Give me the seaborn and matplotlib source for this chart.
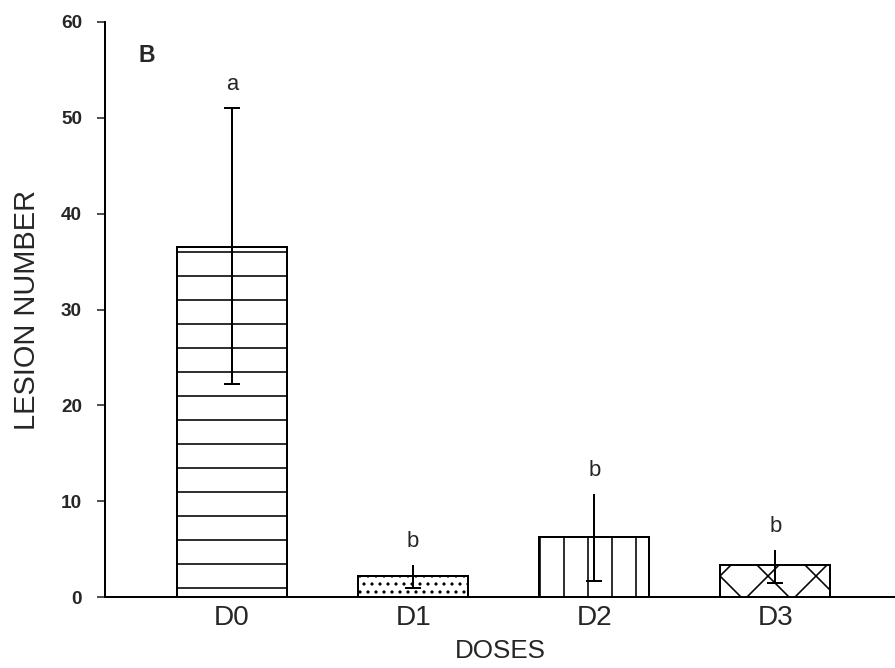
import numpy as np
import matplotlib
matplotlib.use('Agg')
import matplotlib.pyplot as plt
import seaborn as sns

# dados
doses = ['D0', 'D1', 'D2', 'D3']
means = [36.5, 2.2, 6.3, 3.3]
err_low = [22.2, 0.9, 1.7, 1.5]
err_high = [51.0, 3.3, 10.8, 4.9]
letters = ['a', 'b', 'b', 'b']
hatches = ['-', '...', '|', 'x']
top_cap = [1, 0, 0, 0]

sns.set_style('white')
plt.rcParams['font.family'] = ['Liberation Sans', 'DejaVu Sans']
plt.rcParams['hatch.linewidth'] = 0.8
plt.rcParams['hatch.color'] = 'black'

fig = plt.figure(figsize=(895 / 144, 668 / 144), dpi=144)
ax = fig.add_axes([105 / 895, 1 - 597 / 668, 790 / 895, 575 / 668])

sns.barplot(x=doses, y=means, width=0.607, color='white', edgecolor='black',
            linewidth=1, errorbar=None, saturation=1, ax=ax)
for patch, h in zip(ax.patches, hatches):
    patch.set_facecolor('white')
    patch.set_hatch(h)

x = np.arange(len(doses))
m = np.array(means)
lo = m - np.array(err_low)
hi = np.array(err_high) - m

# linha do erro inteira, sem cap
ax.errorbar(x, m, yerr=[lo, hi], fmt='none', ecolor='black', elinewidth=1, capsize=0)
# caps (em cima so no D0)
ax.errorbar(x, m, yerr=[lo, hi * np.array(top_cap)], fmt='none', ecolor='black',
            elinewidth=1, capsize=4, capthick=1)

for xi, yi, t in zip(x, err_high, letters):
    ax.annotate(t, (xi, yi), xytext=(0, 6.5), textcoords='offset points',
                ha='center', va='bottom', fontsize=11)

ax.text(0.043, 0.962, 'B', transform=ax.transAxes, fontsize=11.5, fontweight='bold',
        va='top', ha='left')

ax.set_xlim(-0.701, 3.66)
ax.set_ylim(0, 60)
ax.set_yticks(range(0, 61, 10))
ax.set_xlabel('DOSES', fontsize=13, labelpad=4)
ax.set_ylabel('LESION NUMBER', fontsize=14.5, labelpad=10)

ax.tick_params(axis='y', direction='out', length=4, width=0.8, pad=7.5,
               labelsize=9.5, left=True)
ax.tick_params(axis='x', length=0, pad=4, labelsize=14)
for lab in ax.get_yticklabels():
    lab.set_fontweight('bold')

sns.despine(ax=ax)
ax.spines['left'].set_linewidth(1)
ax.spines['bottom'].set_linewidth(1)
ax.spines['left'].set_color('black')
ax.spines['bottom'].set_color('black')

fig.savefig('out.png', dpi=144)
